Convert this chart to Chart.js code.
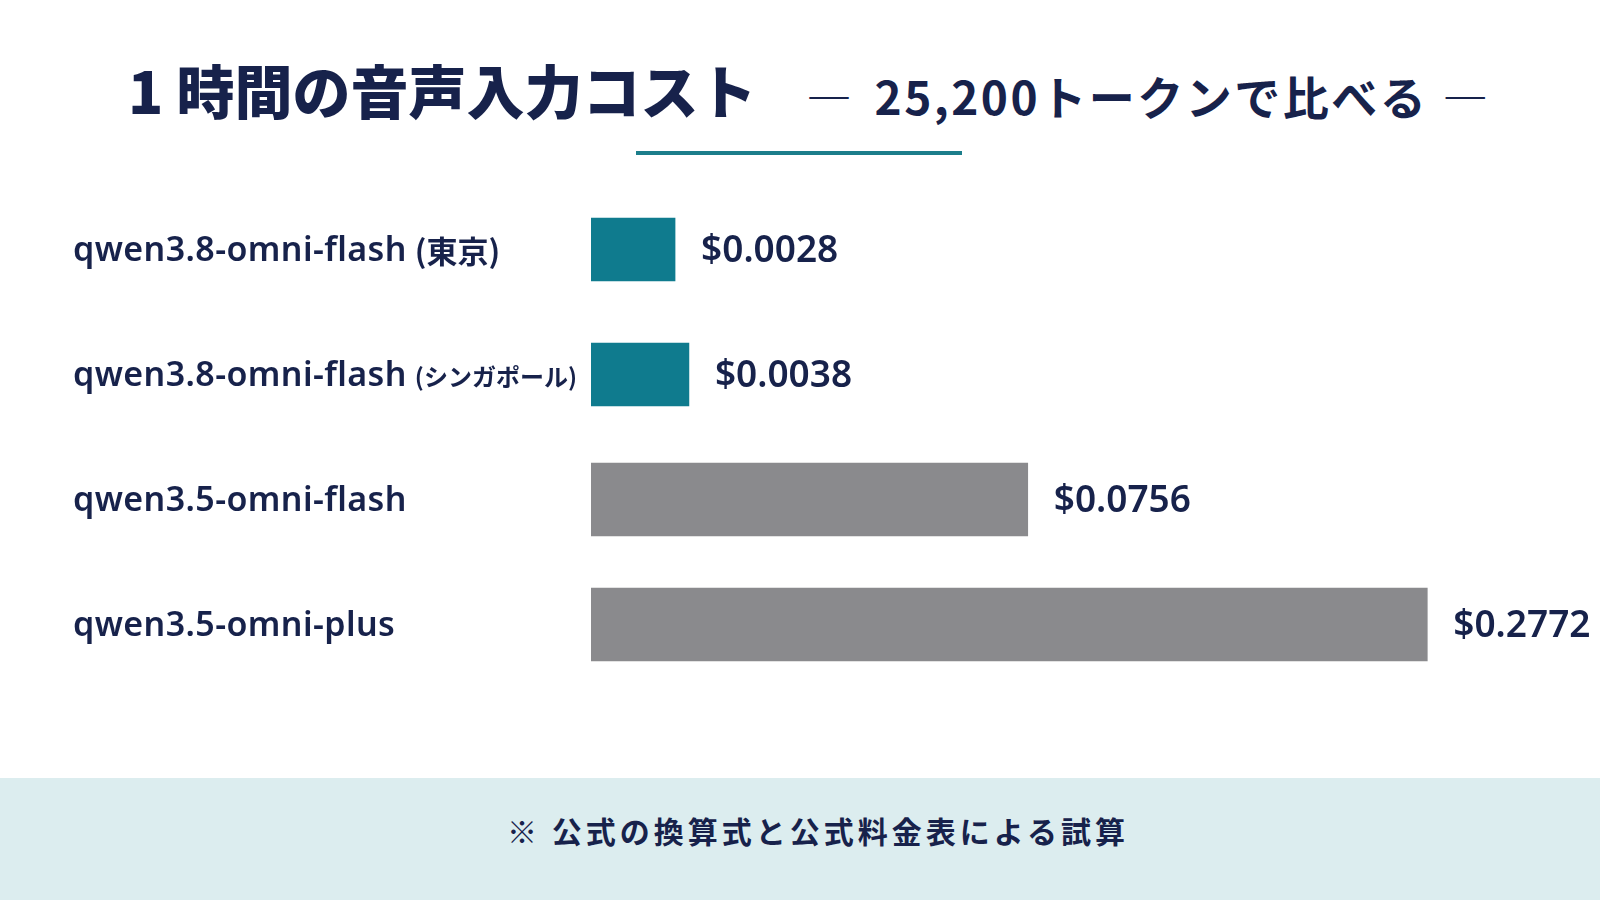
<!DOCTYPE html>
<html lang="ja">
<head>
<meta charset="utf-8">
<title>1時間の音声入力コスト</title>
<script src="https://cdn.jsdelivr.net/npm/chart.js@4.4.1/dist/chart.umd.min.js"></script>
<style>
  html, body { margin: 0; padding: 0; background: #ffffff; }
  body {
    width: 1600px; height: 900px; position: relative; overflow: hidden;
    font-family: "Noto Sans CJK JP", "Noto Sans", sans-serif; color: #17224b;
  }
  .title {
    position: absolute; left: 128px; top: 55px;
    font-size: 58px; line-height: 68px; font-weight: 900; letter-spacing: 0px; white-space: nowrap;
  }
  .subtitle {
    position: absolute; left: 806px; top: 67px;
    font-size: 46px; line-height: 56px; font-weight: 700; letter-spacing: 2.5px; white-space: nowrap;
  }
  .subtitle .dash { font-weight: 400; }
  .subtitle .dash.l { margin-right: 20px; }
  .subtitle .dash.r { margin-left: 14px; }
  .rule { position: absolute; left: 636px; top: 151px; width: 326px; height: 4px; background: #1c7e8b; }
  #wrap { position: absolute; left: 0; top: 187px; width: 1600px; height: 500px; }
  .footer { position: absolute; left: 0; top: 778px; width: 1600px; height: 122px; background: #dcedef; }
  .footer span {
    position: absolute; left: 507px; top: 32px;
    font-size: 30px; line-height: 40px; font-weight: 700; letter-spacing: 4px; white-space: nowrap;
  }
</style>
</head>
<body>
<div class="title">1 時間の音声入力コスト</div>
<div class="subtitle"><span class="dash l">—</span>25,200トークンで比べる<span class="dash r">—</span></div>
<div class="rule"></div>
<div id="wrap"><canvas id="costChart"></canvas></div>
<div class="footer"><span>※ 公式の換算式と公式料金表による試算</span></div>

<script>
// Data
const models = ['qwen3.8-omni-flash', 'qwen3.8-omni-flash', 'qwen3.5-omni-flash', 'qwen3.5-omni-plus'];
const regions = ['東京', 'シンガポール', '', ''];
const costs = [0.0028, 0.0038, 0.0756, 0.2772];
const generation = ['3.8', '3.8', '3.5', '3.5'];

const seriesStyle = {
  '3.8': { color: '#0f7b8e', thickness: 63 },
  '3.5': { color: '#8a8a8d', thickness: 73 },
};
const textColor = '#17224b';

// square-root axis, so the tiny costs still show as bars
class SqrtScale extends Chart.LinearScale {
  static id = 'sqrt';
  static defaults = Chart.LinearScale.defaults;
  getPixelForValue(value) {
    if (value === null || value === undefined) return NaN;
    const lo = Math.sqrt(Math.max(this.min, 0));
    const hi = Math.sqrt(this.max);
    return this.getPixelForDecimal((Math.sqrt(Math.max(value, 0)) - lo) / (hi - lo));
  }
  getValueForPixel(pixel) {
    const lo = Math.sqrt(Math.max(this.min, 0));
    const hi = Math.sqrt(this.max);
    const s = lo + this.getDecimalForPixel(pixel) * (hi - lo);
    return s * s;
  }
}
Chart.register(SqrtScale);

// model names on the left, region in brackets shrunk to fit before the bars
const categoryLabels = {
  id: 'categoryLabels',
  afterDraw(chart) {
    const ctx = chart.ctx;
    const yScale = chart.scales.y;
    const x0 = 73;
    const limit = chart.chartArea.left - 12;
    ctx.save();
    ctx.fillStyle = textColor;
    ctx.textBaseline = 'middle';
    ctx.textAlign = 'left';
    models.forEach((name, i) => {
      const y = yScale.getPixelForValue(i) + 2;
      ctx.letterSpacing = '0.4px';
      ctx.font = '600 34px "Noto Sans", "Noto Sans CJK JP"';
      ctx.fillText(name, x0, y);
      if (!regions[i]) return;
      const x1 = x0 + ctx.measureText(name).width + 8;
      ctx.letterSpacing = '0px';
      const suffix = '(' + regions[i] + ')';
      let size = 31;
      ctx.font = '700 ' + size + 'px "Noto Sans CJK JP"';
      const w = ctx.measureText(suffix).width;
      if (x1 + w > limit) {
        size = Math.floor(size * (limit - x1) / w);
        ctx.font = '700 ' + size + 'px "Noto Sans CJK JP"';
      }
      ctx.fillText(suffix, x1, y);
    });
    ctx.restore();
  }
};

// dollar amounts just past the end of each bar
const valueLabels = {
  id: 'valueLabels',
  afterDatasetsDraw(chart) {
    const ctx = chart.ctx;
    ctx.save();
    ctx.fillStyle = textColor;
    ctx.font = '600 37px "Noto Sans", "Noto Sans CJK JP"';
    ctx.textBaseline = 'middle';
    ctx.textAlign = 'left';
    chart.data.datasets.forEach((ds, d) => {
      chart.getDatasetMeta(d).data.forEach((bar, i) => {
        if (ds.data[i] === null) return;
        ctx.fillText('$' + ds.data[i].toFixed(4), bar.x + 26, bar.y + 2);
      });
    });
    ctx.restore();
  }
};

const datasets = Object.keys(seriesStyle).map(g => ({
  label: 'qwen' + g,
  data: costs.map((v, i) => generation[i] === g ? v : null),
  backgroundColor: seriesStyle[g].color,
  barThickness: seriesStyle[g].thickness,
  borderWidth: 0,
  grouped: false,
}));

const ctxCost = document.getElementById('costChart').getContext('2d');
new Chart(ctxCost, {
  type: 'bar',
  data: {
    labels: models.map((m, i) => regions[i] ? m + ' (' + regions[i] + ')' : m),
    datasets: datasets,
  },
  options: {
    indexAxis: 'y',
    responsive: true,
    maintainAspectRatio: false,
    animation: false,
    layout: { padding: { left: 591, right: 139, top: 0, bottom: 0 } },
    scales: {
      x: { type: 'sqrt', min: 0, max: 0.3, display: false },
      y: { display: false },
    },
    plugins: {
      legend: { display: false },
      tooltip: { enabled: false },
    },
  },
  plugins: [categoryLabels, valueLabels],
});
</script>
</body>
</html>
